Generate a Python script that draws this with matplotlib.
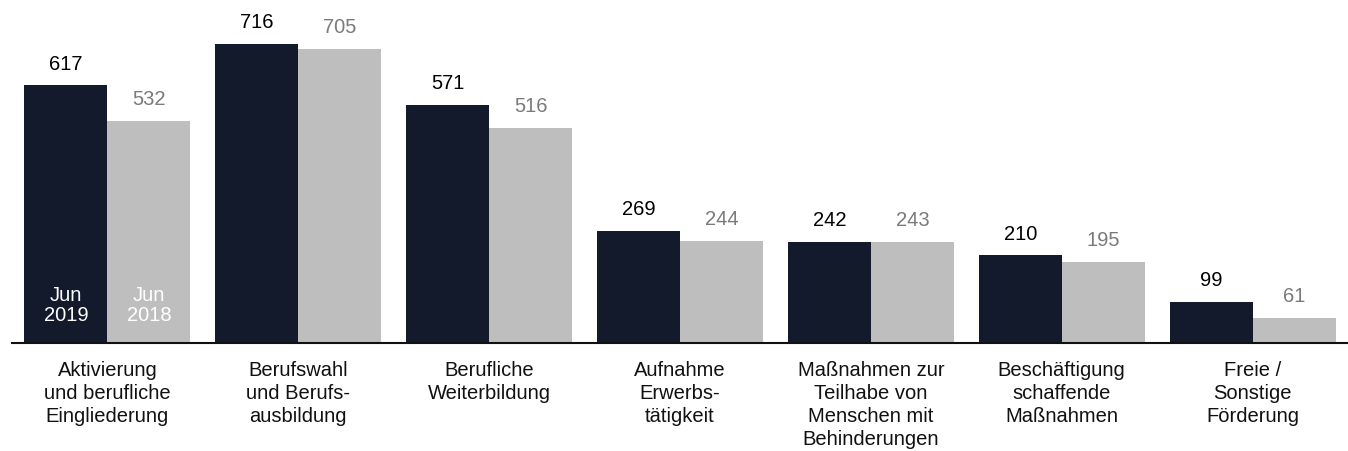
import numpy as np
import matplotlib.pyplot as plt

plt.rcParams['font.family'] = ['Liberation Sans', 'DejaVu Sans']

categories = [
    "Aktivierung\nund berufliche\nEingliederung",
    "Berufswahl\nund Berufs-\nausbildung",
    "Berufliche\nWeiterbildung",
    "Aufnahme\nErwerbs-\ntätigkeit",
    "Maßnahmen zur\nTeilhabe von\nMenschen mit\nBehinderungen",
    "Beschäftigung\nschaffende\nMaßnahmen",
    "Freie /\nSonstige\nFörderung",
]
jun_2019 = [617, 716, 571, 269, 242, 210, 99]
jun_2018 = [532, 705, 516, 244, 243, 195, 61]
series_labels = ["Jun\n2019", "Jun\n2018"]

dark = "#131a2b"
light = "#bebebe"

fig = plt.figure(figsize=(13.48, 4.52), dpi=100)
ax = fig.add_axes([12 / 1348, 108 / 452, 1336 / 1348, 344 / 452])

x = np.arange(len(categories))
w = 0.435
b1 = ax.bar(x - w / 2, jun_2019, w, color=dark)
b2 = ax.bar(x + w / 2, jun_2018, w, color=light)

for rect, v in zip(b1, jun_2019):
    ax.annotate(str(v), (rect.get_x() + rect.get_width() / 2, v),
                xytext=(0, 12), textcoords="offset points",
                ha="center", va="baseline", fontsize=14.5, color="black")
for rect, v in zip(b2, jun_2018):
    ax.annotate(str(v), (rect.get_x() + rect.get_width() / 2, v),
                xytext=(0, 12), textcoords="offset points",
                ha="center", va="baseline", fontsize=14.5, color="#7a7a7a")

# period labels inside the first pair of bars
for rect, lab in zip([b1[0], b2[0]], series_labels):
    ax.annotate(lab, (rect.get_x() + rect.get_width() / 2, 0),
                xytext=(0, 13.5), textcoords="offset points",
                ha="center", va="bottom", fontsize=14.5, color="white",
                linespacing=1.05)

ax.set_xlim(-0.5, 6.5)
ax.set_ylim(0, 824)
ax.set_xticks(x)
ax.set_xticklabels(categories, fontsize=14.5, linespacing=1.27, color="#111111")
ax.tick_params(axis="x", length=0, pad=12)
ax.set_yticks([])
for s in ["top", "right", "left"]:
    ax.spines[s].set_visible(False)
ax.spines["bottom"].set_linewidth(1.5)
ax.spines["bottom"].set_color("#111111")

fig.savefig("out.png", dpi=100)
